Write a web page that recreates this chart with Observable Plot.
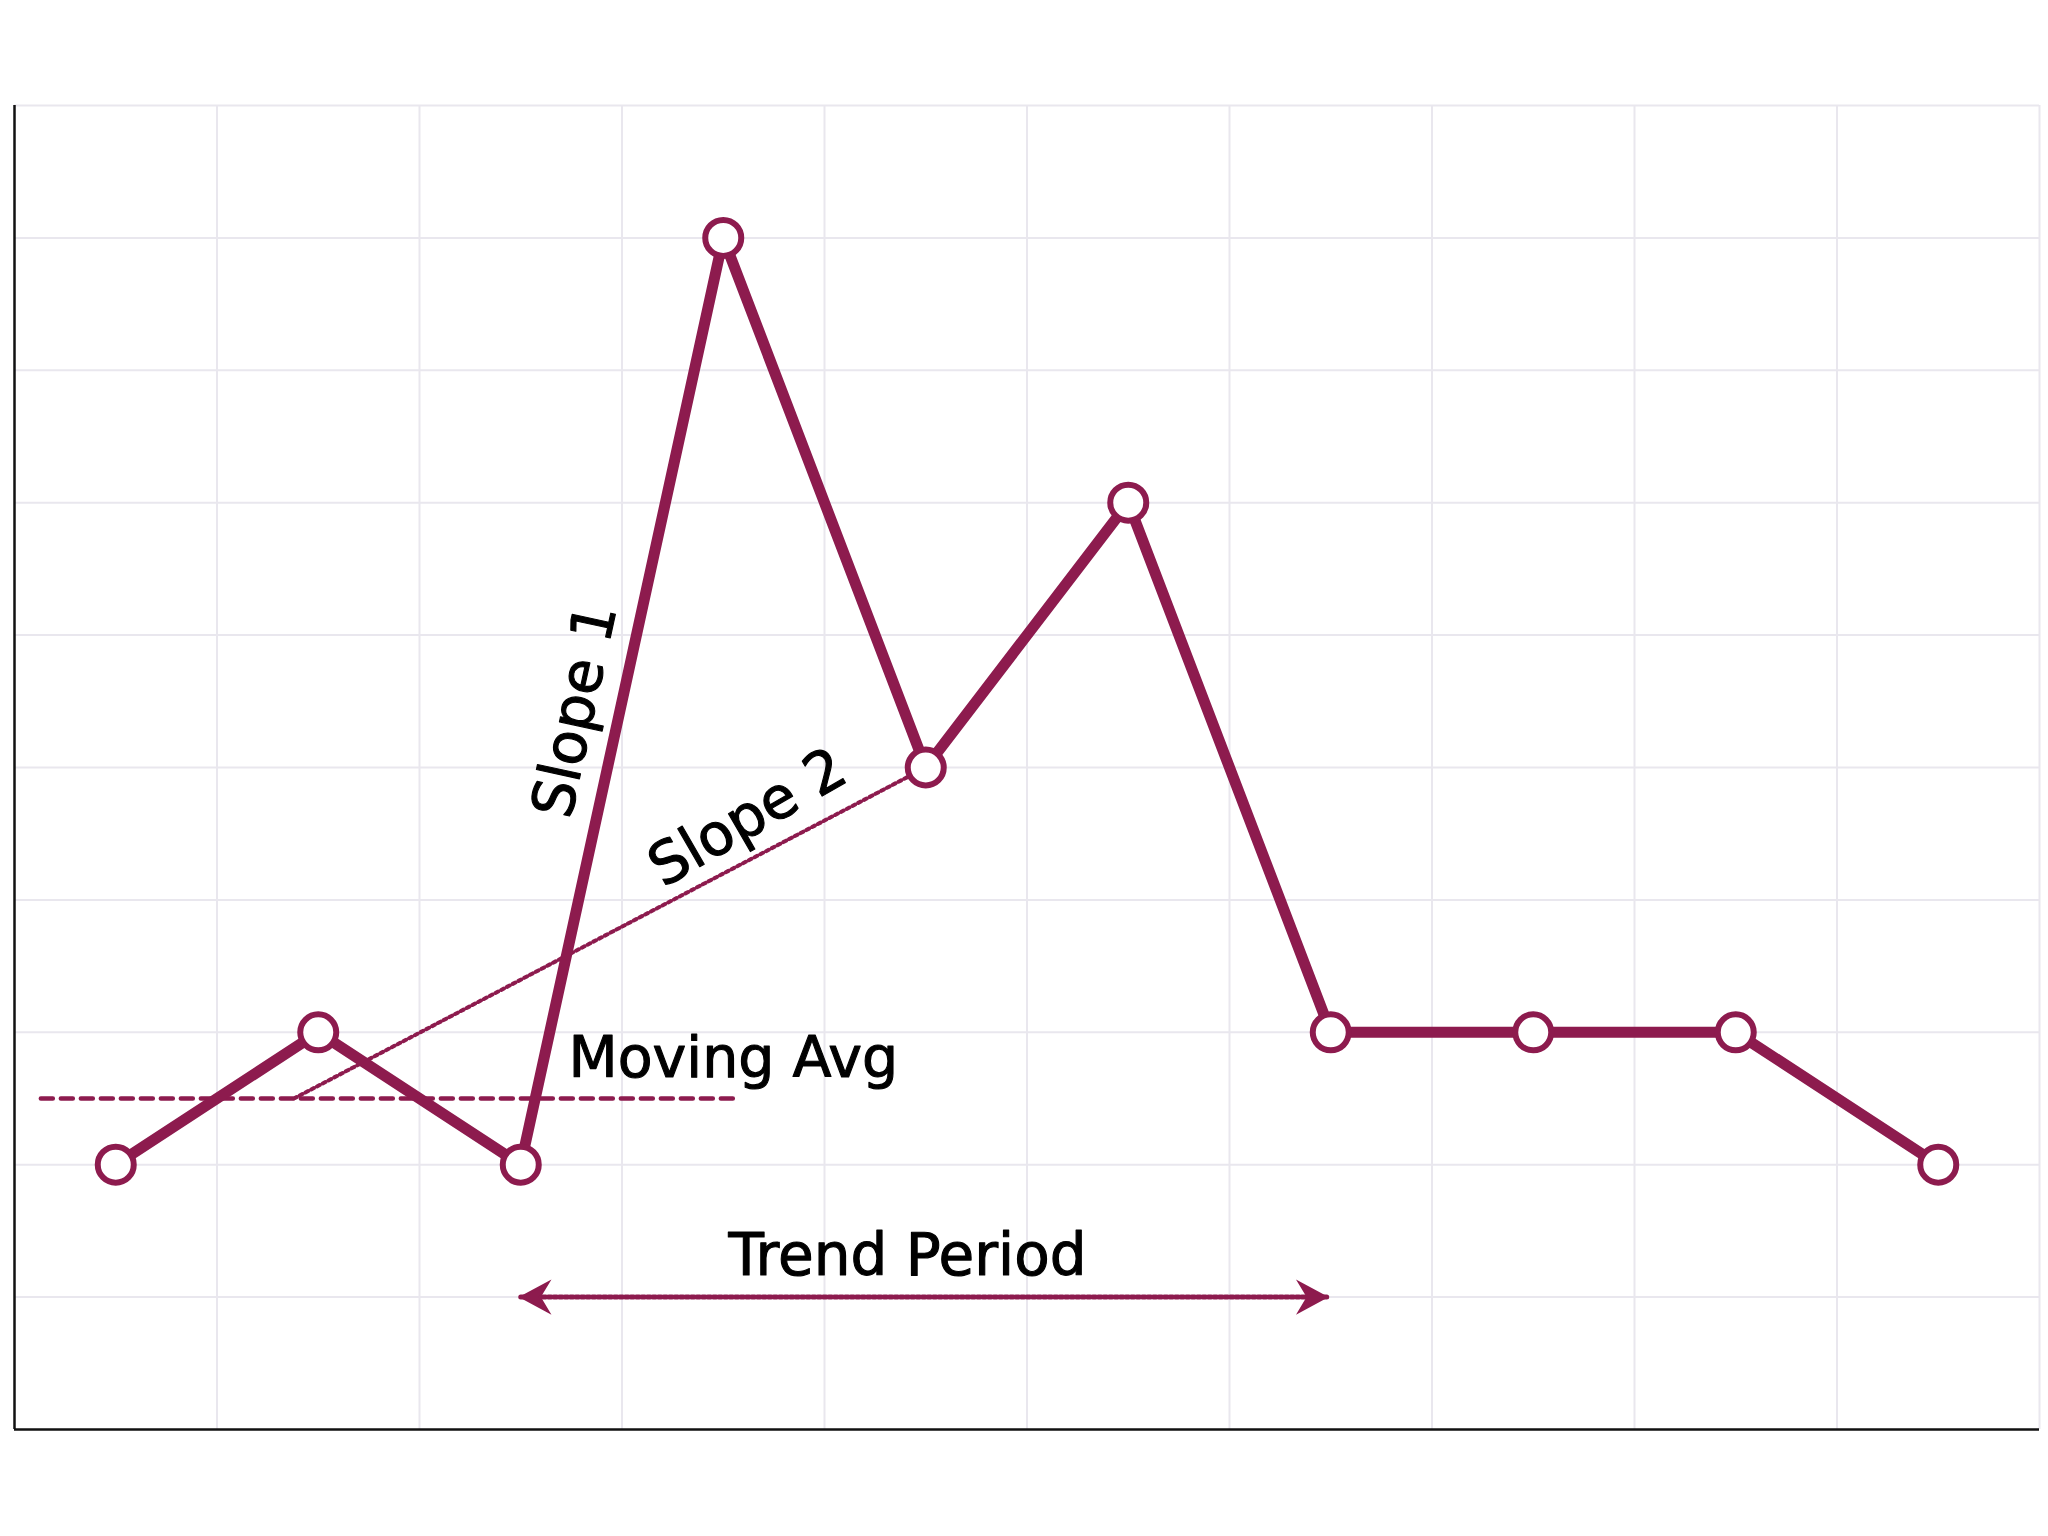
<!DOCTYPE html>
<html>
<head>
<meta charset="utf-8">
<script src="https://cdn.jsdelivr.net/npm/d3@7"></script>
<script src="https://cdn.jsdelivr.net/npm/@observablehq/plot@0.6"></script>
<style>
  html, body { margin: 0; padding: 0; background: #ffffff; }
  #chart svg { display: block; }
</style>
</head>
<body>
<div id="chart"></div>
<script>
// ---- data ----
const pointX = [0.5, 1.5, 2.5, 3.5, 4.5, 5.5, 6.5, 7.5, 8.5, 9.5];
const pointY = [2, 3, 2, 9, 5, 7, 3, 3, 3, 2];

const gridX = [1, 2, 3, 4, 5, 6, 7, 8, 9, 10];
const gridY = [1, 2, 3, 4, 5, 6, 7, 8, 9, 10];

const movingAvgX = [0.13, 3.57];
const movingAvgY = [2.5, 2.5];

const slope2X = [1.38, 4.5];
const slope2Y = [2.5, 5];

const trendX = [2.5, 6.48];
const trendY = [1, 1];

const labelText = ["Slope 1", "Slope 2", "Moving Avg", "Trend Period"];
const labelX = [2.77, 3.62, 2.736, 4.41];
const labelY = [5.43, 4.62, 2.80, 1.31];
const labelRotate = [-77.7, -30, 0, 0];
const labelAnchor = ["middle", "middle", "start", "middle"];

// ---- style ----
const color = "#8d1b4e";
const gridColor = "#e9e7ee";
const font = "'DejaVu Sans', 'Open Sans', sans-serif";

const points = pointX.map((x, i) => ({x, y: pointY[i]}));
const movingAvg = movingAvgX.map((x, i) => ({x, y: movingAvgY[i]}));
const slope2 = slope2X.map((x, i) => ({x, y: slope2Y[i]}));
const trend = trendX.map((x, i) => ({x, y: trendY[i]}));
const labels = labelText.map((t, i) => ({t, x: labelX[i], y: labelY[i], r: labelRotate[i], a: labelAnchor[i]}));

const leftHead = {
  draw(context) {
    context.moveTo(0, 0);
    context.lineTo(28, -15);
    context.lineTo(19, 0);
    context.lineTo(28, 15);
    context.closePath();
  }
};
const rightHead = {
  draw(context) {
    context.moveTo(0, 0);
    context.lineTo(-28, -15);
    context.lineTo(-19, 0);
    context.lineTo(-28, 15);
    context.closePath();
  }
};

const textStyle = {
  fontSize: 58, fill: "#000000", fontFamily: font,
  stroke: "#000000", strokeWidth: 1.1
};

const chart = Plot.plot({
  width: 2048,
  height: 1536,
  marginLeft: 14,
  marginRight: 9,
  marginTop: 105,
  marginBottom: 107,
  x: {domain: [0, 10], axis: null},
  y: {domain: [0, 10], axis: null},
  style: {background: "#ffffff", fontFamily: font},
  marks: [
    Plot.ruleX(gridX, {stroke: gridColor, strokeWidth: 2}),
    Plot.ruleY(gridY, {stroke: gridColor, strokeWidth: 2}),
    Plot.ruleX([0], {stroke: "#111111", strokeWidth: 2.5}),
    Plot.ruleY([0], {stroke: "#111111", strokeWidth: 2.5}),
    Plot.line(movingAvg, {x: "x", y: "y", stroke: color, strokeWidth: 4.5, strokeDasharray: "12,8"}),
    Plot.line(slope2, {x: "x", y: "y", stroke: color, strokeWidth: 4, strokeDasharray: "3,3.5"}),
    Plot.line(trend, {x: "x", y: "y", stroke: color, strokeWidth: 5, strokeDasharray: "3,2.5"}),
    Plot.dot([trend[0]], {x: "x", y: "y", symbol: leftHead, fill: color, stroke: color, strokeWidth: 2, strokeLinejoin: "miter", r: 10}),
    Plot.dot([trend[1]], {x: "x", y: "y", symbol: rightHead, fill: color, stroke: color, strokeWidth: 2, strokeLinejoin: "miter", r: 10}),
    Plot.line(points, {x: "x", y: "y", stroke: color, strokeWidth: 11, strokeLinejoin: "round", strokeLinecap: "round"}),
    Plot.dot(points, {x: "x", y: "y", r: 18, fill: "#ffffff", stroke: color, strokeWidth: 6}),
    Plot.text(labels.filter(d => d.a === "middle"), {
      x: "x", y: "y", text: "t", rotate: "r",
      textAnchor: "middle", lineAnchor: "middle",
      ...textStyle
    }),
    Plot.text(labels.filter(d => d.a === "start"), {
      x: "x", y: "y", text: "t", rotate: "r",
      textAnchor: "start", lineAnchor: "middle",
      ...textStyle, fontSize: 57
    })
  ]
});

document.getElementById("chart").appendChild(chart);
</script>
</body>
</html>
